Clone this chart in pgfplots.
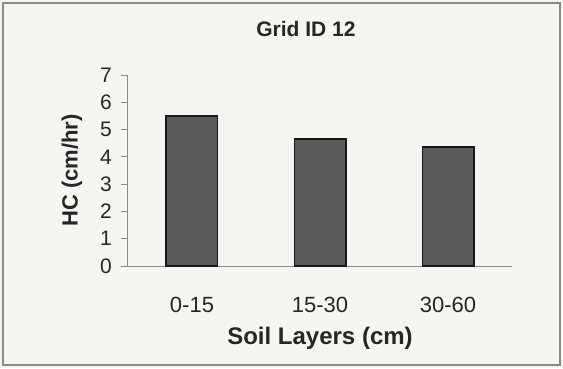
\documentclass[border=0pt]{standalone}
\usepackage{pgfplots}
\pgfplotsset{compat=1.18}
\usepackage{fontspec}
\setmainfont{Liberation Sans}
\definecolor{bg}{HTML}{F6F5F1}
\definecolor{barfill}{HTML}{5A5A5A}
\definecolor{axisgray}{HTML}{8A8A8A}

\begin{document}
\begin{tikzpicture}[x=1pt,y=1pt]
  \fill[bg] (0,0) rectangle (563,368);
  \draw[axisgray, line width=1.2pt] (3,3) rectangle (560,365);
  \begin{axis}[at={(128pt,102pt)}, anchor=south west,
    scale only axis, width=384pt, height=191pt,
    xmin=-0.5, xmax=2.5, ymin=0, ymax=7,
    axis x line*=bottom, axis y line*=left,
    axis line style={axisgray, line width=1pt},
    xtick={0,1,2}, xticklabels={0-15,15-30,30-60},
    major x tick style={draw=none},
    extra x ticks={0.5,1.5}, extra x tick labels={},
    extra x tick style={tick style={axisgray, line width=0.8pt}, major tick length=6pt, tick align=outside},
    ytick={0,1,...,7},
    y tick style={axisgray, line width=0.8pt}, major tick length=7pt, tick align=outside,
    tick label style={font=\fontsize{21}{21}\selectfont, text=black!85},
    /pgf/number format/assume math mode=true,
    xticklabel style={font=\fontsize{22}{22}\selectfont, anchor=center, yshift=-32pt},
    yticklabel style={anchor=east, inner sep=0pt, xshift=-9pt},
    xlabel={\bfseries Soil Layers (cm)},
    ylabel={\bfseries HC (cm/hr)},
    xlabel style={font=\fontsize{24}{24}\selectfont\bfseries, text=black!85,
      at={(axis description cs:0.5,0)}, anchor=center, yshift=-72pt},
    ylabel style={font=\fontsize{22}{22}\selectfont\bfseries, text=black!85,
      at={(axis description cs:0,0.5)}, anchor=center, yshift=56pt},
    title={\bfseries Grid ID 12},
    title style={font=\fontsize{21}{21}\selectfont\bfseries, text=black!85,
      at={(axis description cs:0.5,1)}, anchor=center, yshift=40pt, xshift=-14pt},
    ybar, bar width=0.4, bar shift=0pt,
    clip=false]
    \addplot[fill=barfill, draw=black!90, line width=1.8pt]
      coordinates {(0,5.5) (1,4.65) (2,4.35)};
  \end{axis}
\end{tikzpicture}
\end{document}
